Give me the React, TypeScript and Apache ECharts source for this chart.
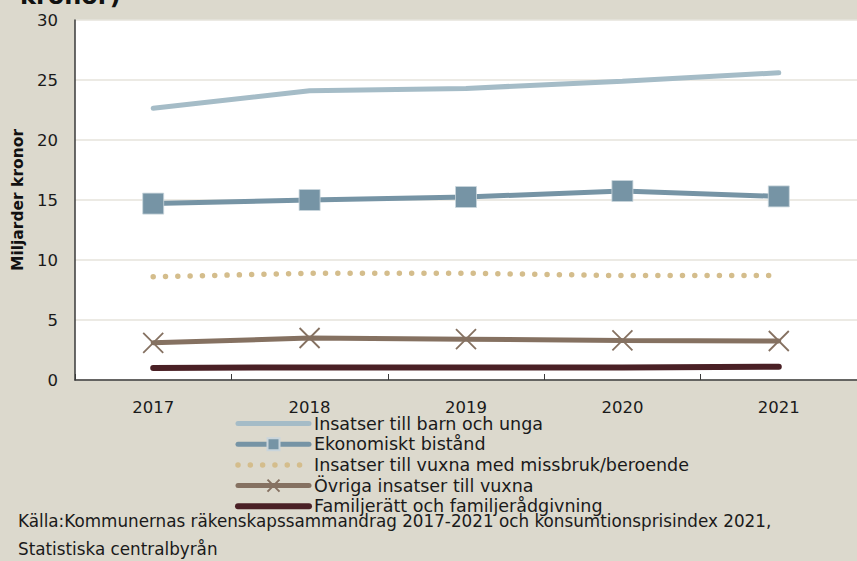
import React, { useEffect, useRef } from "react";
import * as echarts from "echarts";

const years = ["2017", "2018", "2019", "2020", "2021"];
const barnOchUnga = [22.65, 24.1, 24.3, 24.9, 25.6];
const ekonomisktBistand = [14.7, 15.0, 15.25, 15.75, 15.3];
const missbruk = [8.6, 8.9, 8.9, 8.7, 8.7];
const ovriga = [3.1, 3.5, 3.4, 3.3, 3.25];
const familjeratt = [1.0, 1.05, 1.05, 1.05, 1.1];
const seriesNames = [
  "Insatser till barn och unga",
  "Ekonomiskt bistånd",
  "Insatser till vuxna med missbruk/beroende",
  "Övriga insatser till vuxna",
  "Familjerätt och familjerådgivning",
];
const sourceLines = [
  "Källa:Kommunernas räkenskapssammandrag 2017-2021 och konsumtionsprisindex 2021,",
  "Statistiska centralbyrån",
];

const FONT = "DejaVu Sans";

export default function App() {
  const ref = useRef<HTMLDivElement>(null);
  useEffect(() => {
    if (!ref.current) return;
    const chart = echarts.init(ref.current, null, { renderer: "svg" });
    const hiddenSymbol = { opacity: 0 };
    chart.setOption({
      animation: false,
      backgroundColor: "#dcd9cd",
      textStyle: { fontFamily: FONT },
      grid: {
        left: 75,
        right: -11,
        top: 20,
        bottom: 181,
        show: true,
        backgroundColor: "#ffffff",
        borderWidth: 0,
      },
      xAxis: {
        type: "category",
        data: years,
        boundaryGap: true,
        axisLine: { lineStyle: { color: "#3a3a3a", width: 1.5 } },
        axisTick: { show: true, inside: true, length: 6, lineStyle: { color: "#3a3a3a" } },
        axisLabel: { color: "#1a1a1a", fontSize: 16.5, margin: 19, fontFamily: FONT },
        splitLine: { show: false },
      },
      yAxis: {
        type: "value",
        min: 0,
        max: 30,
        interval: 5,
        name: "Miljarder kronor",
        nameLocation: "middle",
        nameGap: 49,
        nameTextStyle: { fontSize: 15.5, fontWeight: "bold", color: "#111", fontFamily: FONT },
        axisLine: { show: true, lineStyle: { color: "#3a3a3a", width: 1.5 } },
        axisTick: { show: false },
        axisLabel: { color: "#1a1a1a", fontSize: 16.5, margin: 17, fontFamily: FONT },
        splitLine: { lineStyle: { color: "#e6e3db", width: 1.5 } },
      },
      legend: {
        orient: "vertical",
        left: 235,
        top: 414.5,
        padding: 0,
        itemWidth: 71,
        itemHeight: 15,
        itemGap: 2.7,
        lineStyle: { width: "inherit" },
        textStyle: { fontSize: 17.5, color: "#1a1a1a", fontFamily: FONT, lineHeight: 16 },
        data: [
          { name: seriesNames[0], itemStyle: hiddenSymbol },
          { name: seriesNames[1] },
          { name: seriesNames[2], itemStyle: hiddenSymbol },
          { name: seriesNames[3] },
          { name: seriesNames[4], itemStyle: hiddenSymbol },
        ],
      },
      graphic: [
        {
          type: "text",
          left: 20,
          top: -16,
          style: { text: "kronor)", font: `bold 24px ${FONT}`, fill: "#111" },
        },
        {
          type: "text",
          left: 18,
          top: 512,
          style: {
            text: sourceLines[0],
            font: `16.8px ${FONT}`,
            lineHeight: 16,
            fill: "#1a1a1a",
          },
        },
        {
          type: "text",
          left: 18,
          top: 540,
          style: {
            text: sourceLines[1],
            font: `16.8px ${FONT}`,
            lineHeight: 16,
            fill: "#1a1a1a",
          },
        },
      ],
      series: [
        {
          name: seriesNames[0],
          type: "line",
          data: barnOchUnga,
          symbol: "none",
          lineStyle: { color: "#a5bcc7", width: 5, cap: "round" },
          itemStyle: { color: "#a5bcc7" },
        },
        {
          name: seriesNames[1],
          type: "line",
          data: ekonomisktBistand,
          symbol: "rect",
          symbolSize: 21,
          lineStyle: { color: "#7694a5", width: 5, cap: "round" },
          itemStyle: { color: "#7694a5", borderColor: "#c9d5dc", borderWidth: 0.8 },
        },
        {
          name: seriesNames[2],
          type: "line",
          data: missbruk,
          symbol: "none",
          lineStyle: { color: "#d4bd8c", width: 5.5, type: [0.01, 12.3], cap: "round" },
          itemStyle: { color: "#d4bd8c" },
        },
        {
          name: seriesNames[3],
          type: "line",
          data: ovriga,
          symbol: "path://M0,0 L10,10 M10,0 L0,10",
          symbolSize: 20,
          lineStyle: { color: "#857161", width: 5, cap: "round" },
          itemStyle: { color: "#857161", borderColor: "#857161", borderWidth: 1.8 },
        },
        {
          name: seriesNames[4],
          type: "line",
          data: familjeratt,
          symbol: "none",
          lineStyle: { color: "#4a2025", width: 6, cap: "round" },
          itemStyle: { color: "#4a2025" },
        },
      ],
    });
    return () => chart.dispose();
  }, []);
  return (
    <div
      ref={ref}
      style={{ position: "absolute", left: 0, top: 0, width: 857, height: 561 }}
    />
  );
}
